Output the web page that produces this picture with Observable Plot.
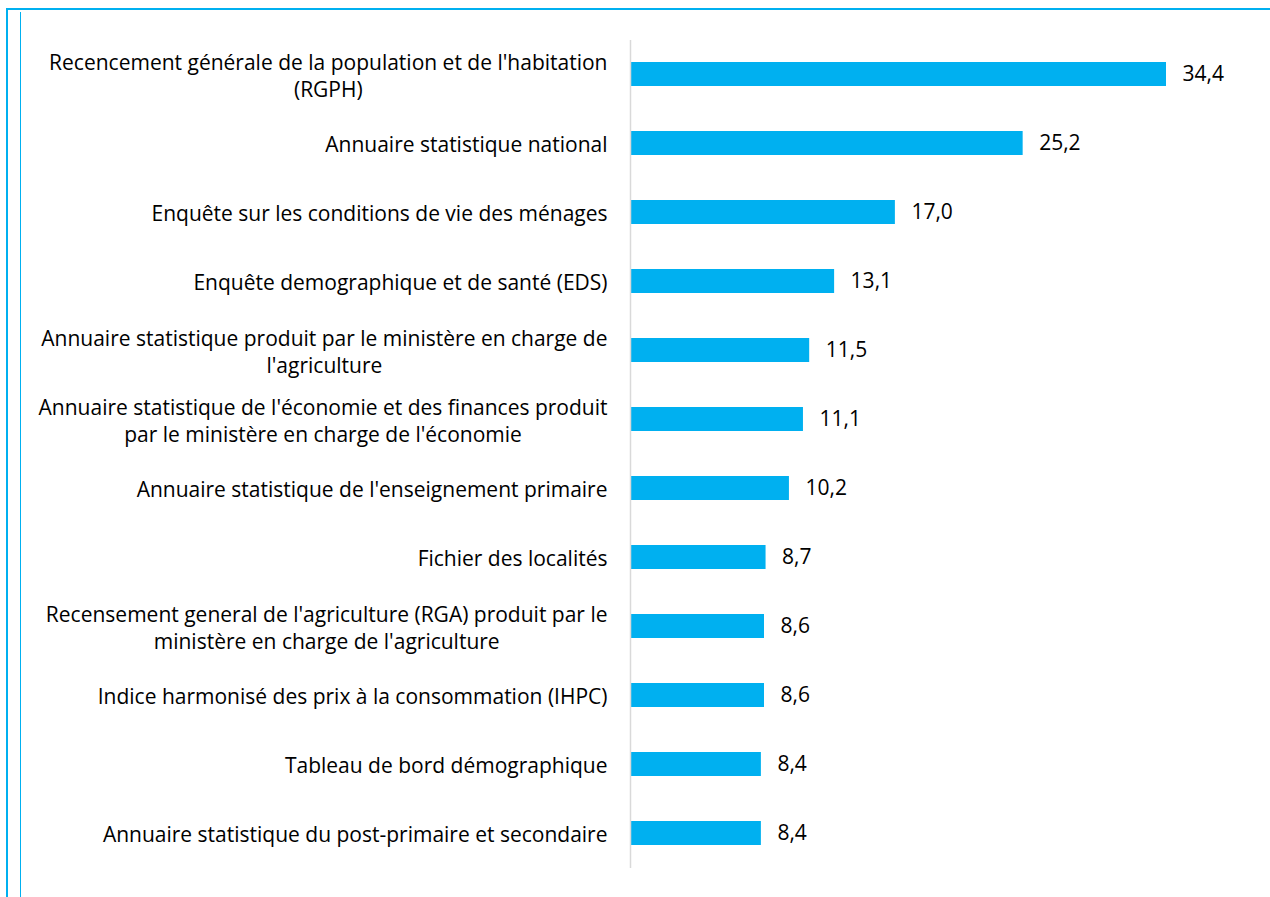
<!DOCTYPE html>
<html>
<head>
<meta charset="utf-8">
<script src="https://cdn.jsdelivr.net/npm/d3@7"></script>
<script src="https://cdn.jsdelivr.net/npm/@observablehq/plot@0.6"></script>
<style>
  html, body { margin: 0; padding: 0; background: #fff; }
  #wrap { position: relative; width: 1270px; height: 897px; overflow: hidden; }
  .frame-top { position: absolute; left: 6px; top: 8px; right: 0; height: 2px; background: #00B0F0; }
  .frame-left { position: absolute; left: 6px; top: 8px; bottom: 0; width: 2px; background: #00B0F0; }
  .frame-inner { position: absolute; left: 20px; top: 12px; bottom: 0; width: 1px; background: #00B0F0; }
  #chart { position: absolute; left: 0; top: 0; }
</style>
</head>
<body>
<div id="wrap">
  <div class="frame-top"></div>
  <div class="frame-left"></div>
  <div class="frame-inner"></div>
  <div id="chart"></div>
</div>
<script>
const categories = [
  "Recencement générale de la population et de l'habitation\n(RGPH)",
  "Annuaire statistique national",
  "Enquête sur les conditions de vie des ménages",
  "Enquête demographique et de santé (EDS)",
  "Annuaire statistique produit par le ministère en charge de\nl'agriculture",
  "Annuaire statistique de l'économie et des finances produit\npar le ministère en charge de l'économie",
  "Annuaire statistique de l'enseignement primaire",
  "Fichier des localités",
  "Recensement general de l'agriculture (RGA) produit par le\nministère en charge de l'agriculture",
  "Indice harmonisé des prix à la consommation (IHPC)",
  "Tableau de bord démographique",
  "Annuaire statistique du post-primaire et secondaire"
];
const values = [34.4, 25.2, 17.0, 13.1, 11.5, 11.1, 10.2, 8.7, 8.6, 8.6, 8.4, 8.4];

const data = categories.map((c, i) => ({ name: c, value: values[i] }));
const fmt = v => v.toFixed(1).replace(".", ",");
const FONT = "'Open Sans', 'Noto Sans', sans-serif";

const chart = Plot.plot({
  width: 1270,
  height: 897,
  marginLeft: 630,
  marginRight: 104,
  marginTop: 40,
  marginBottom: 29,
  style: { fontFamily: FONT, fontSize: "21px", color: "#000", background: "transparent" },
  x: { domain: [0, 34.4], axis: null },
  y: { domain: categories, axis: null, paddingInner: 0.652, paddingOuter: 0.326 },
  marks: [
    Plot.barX(data, { x: "value", y: "name", fill: "#00B0F0" }),
    Plot.ruleX([0], { stroke: "#D9D9D9", strokeWidth: 1.5 }),
    Plot.text(data, {
      x: 0, y: "name", text: "name", textAnchor: "end", dx: -23,
      lineHeight: 1.3, fill: "#000", fontSize: 21, className: "cat-label"
    }),
    Plot.text(data, {
      x: "value", y: "name", text: d => fmt(d.value), textAnchor: "start", dx: 16,
      fill: "#000", fontSize: 21
    })
  ]
});
document.getElementById("chart").appendChild(chart);

// Center multi-line category labels within their right-aligned block (as in the original)
chart.querySelectorAll(".cat-label text").forEach(t => {
  const spans = t.querySelectorAll("tspan");
  if (spans.length > 1) {
    let w = 0;
    spans.forEach(s => { w = Math.max(w, s.getComputedTextLength()); });
    t.setAttribute("text-anchor", "middle");
    spans.forEach(s => s.setAttribute("x", -w / 2));
  }
});
</script>
</body>
</html>
